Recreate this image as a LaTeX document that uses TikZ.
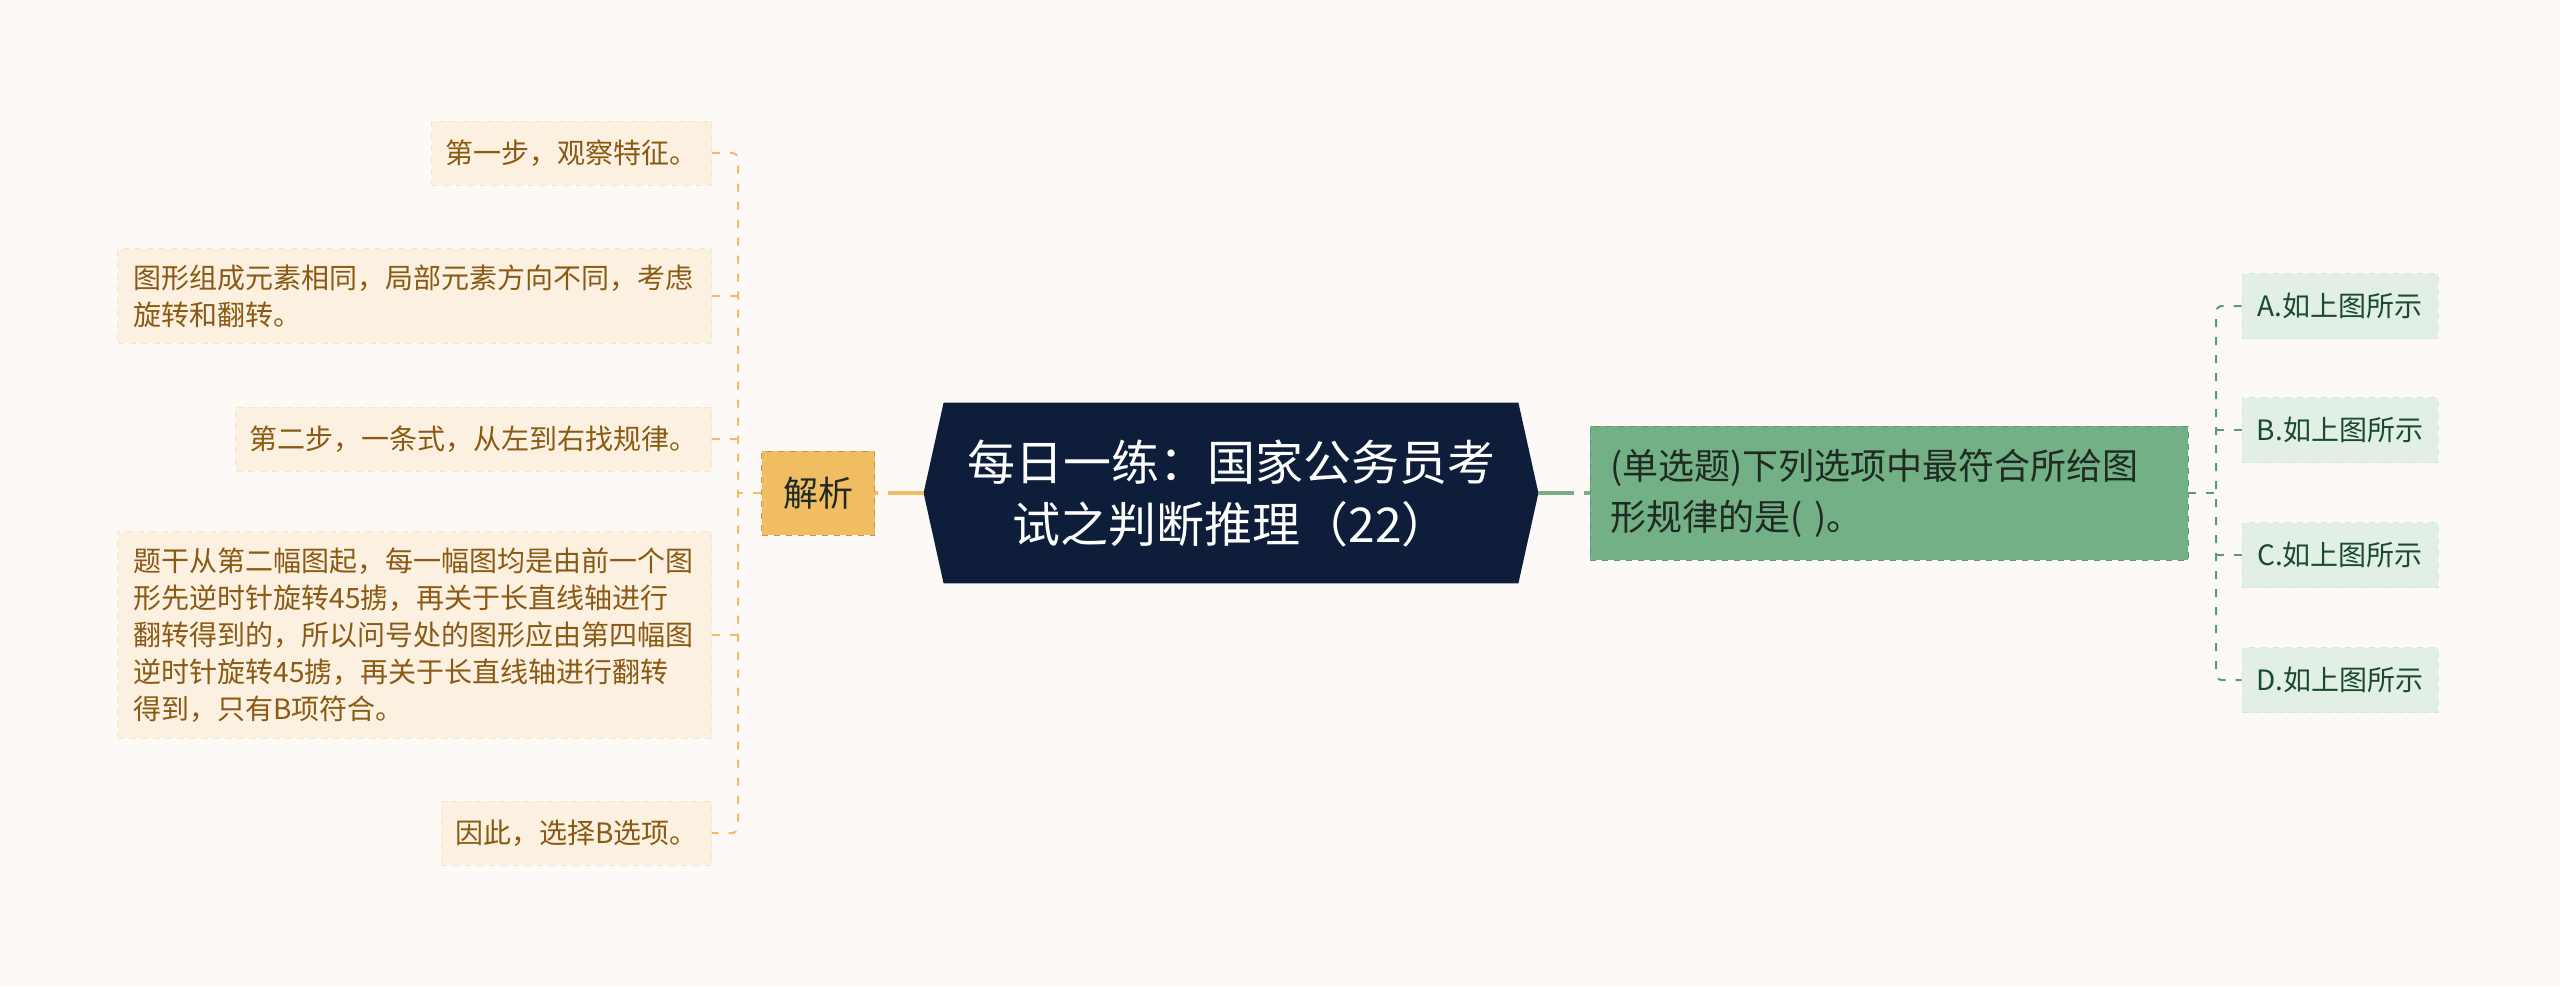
\documentclass[tikz,border=0pt]{standalone}
\usepackage{fontspec}
\setmainfont{Noto Sans CJK SC}
\usetikzlibrary{backgrounds}
\tikzset{>=stealth}
\definecolor{bg}{HTML}{FDF9F7}
\definecolor{navy}{HTML}{0E1E3A}
\definecolor{gold}{HTML}{F0BD63}
\definecolor{cream}{HTML}{FCF0E0}
\definecolor{creamline}{HTML}{F5E4CA}
\definecolor{brown}{HTML}{8A5A14}
\definecolor{leaf}{HTML}{73B086}
\definecolor{leafline}{HTML}{5E9A70}
\definecolor{mint}{HTML}{E2EFE5}
\definecolor{mintline}{HTML}{D3E6D8}
\definecolor{pine}{HTML}{1C4A2C}
\definecolor{ink}{HTML}{1F2A22}

\begin{document}
\begin{tikzpicture}[x=0.5pt,y=-0.5pt,
leftbox/.style={fill=cream,draw=creamline,dashed,text=brown,anchor=east,align=left,
  font=\fontsize{14pt}{18.5pt}\selectfont,inner xsep=7pt,inner ysep=8pt,minimum height=32pt},
widebox/.style={leftbox,text width=281pt,inner xsep=8pt},
titlebox/.style={text=white,align=center,font=\fontsize{24pt}{31pt}\selectfont,
  minimum width=307pt,minimum height=90pt,inner sep=0pt},
keybox/.style={fill=gold,draw=gold!80!black,dashed,text=ink,minimum width=56.5pt,
  minimum height=42pt,font=\fontsize{17.5pt}{20pt}\selectfont},
quesbox/.style={fill=leaf,draw=leafline,dashed,text=ink,align=left,text width=279pt,
  inner xsep=10pt,minimum height=67pt,font=\fontsize{18pt}{25.5pt}\selectfont},
optbox/.style={fill=mint,draw=mintline,dashed,text=pine,minimum width=98pt,
  minimum height=32.5pt,font=\fontsize{14pt}{17pt}\selectfont},
mainlink/.style={line width=2pt,dash pattern=on 18pt off 5pt},
lline/.style={gold,line width=1pt,dash pattern=on 4pt off 5pt},
rline/.style={leafline,line width=1pt,dash pattern=on 4pt off 5pt}]
\useasboundingbox (0,0) rectangle (2560,986);
\node[titlebox] (T) at (1231,493) {每日一练：国家公务员考\\试之判断推理（22）};
\node[keybox] (J) at (818,493) {解析};
\node[quesbox] (Q) at (1889,493) {(单选题)下列选项中最符合所给图\\形规律的是( )。};
\node[leftbox] (L1) at (712,153) {第一步，观察特征。};
\node[widebox] (L2) at (712,296) {图形组成元素相同，局部元素方向不同，考虑\\旋转和翻转。};
\node[leftbox] (L3) at (712,439) {第二步，一条式，从左到右找规律。};
\node[widebox] (L4) at (712,635) {题干从第二幅图起，每一幅图均是由前一个图\\形先逆时针旋转45掳，再关于长直线轴进行\\翻转得到的，所以问号处的图形应由第四幅图\\逆时针旋转45掳，再关于长直线轴进行翻转\\得到，只有B项符合。};
\node[leftbox] (L5) at (712,833) {因此，选择B选项。};
\node[optbox] (A) at (2340,306) {A.如上图所示};
\node[optbox] (B) at (2340,430) {B.如上图所示};
\node[optbox] (C) at (2340,555) {C.如上图所示};
\node[optbox] (D) at (2340,680) {D.如上图所示};
\coordinate (L) at (738,493);
\coordinate (R) at (2216,493);
\begin{scope}[on background layer]
\fill[bg] (0,0) rectangle (2560,986);
\fill[navy] ([xshift=10pt]T.north west) -- (T.west) -- ([xshift=10pt]T.south west)
  -- ([xshift=-10pt]T.south east) -- (T.east) -- ([xshift=-10pt]T.north east) -- cycle;
\end{scope}
\draw[mainlink,gold] (T.west) -- (J.east);
\draw[mainlink,leaf] (T.east) -- (Q.west);
\draw[lline] (J.west) -- (L);
\draw[lline,rounded corners=3pt] (L1.east) -| (L) |- (L5.east);
\draw[lline] (L2.east) -- (L2.east -| L);
\draw[lline] (L3.east) -- (L3.east -| L);
\draw[lline] (L4.east) -- (L4.east -| L);
\draw[rline] (Q.east) -- (R);
\draw[rline,rounded corners=3pt] (A.west) -| (R) |- (D.west);
\draw[rline] (B.west) -- (B.west -| R);
\draw[rline] (C.west) -- (C.west -| R);
\end{tikzpicture}
\end{document}
